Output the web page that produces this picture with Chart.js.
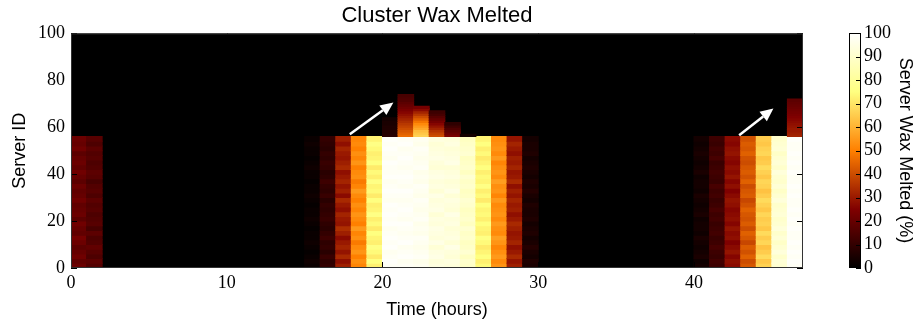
<!DOCTYPE html>
<html>
<head>
<meta charset="utf-8">
<title>Cluster Wax Melted</title>
<script src="https://cdn.jsdelivr.net/npm/chart.js@4.4.1/dist/chart.umd.min.js"></script>
<style>
  body { margin: 0; background: #fff; }
  #wrap { position: relative; width: 920px; height: 321px; }
  #heat { position: absolute; left: 0; top: 0; }
  #cbar { position: absolute; left: 830px; top: 0; }
</style>
</head>
<body>
<div id="wrap">
  <canvas id="heat" width="830" height="321"></canvas>
  <canvas id="cbar" width="90" height="321"></canvas>
</div>
<script>
// hours on the x axis, one column per hour
const hours = [0, 1, 2, 3, 4, 5, 6, 7, 8, 9, 10, 11, 12, 13, 14, 15, 16, 17, 18, 19, 20, 21, 22, 23,
  24, 25, 26, 27, 28, 29, 30, 31, 32, 33, 34, 35, 36, 37, 38, 39, 40, 41, 42, 43, 44, 45, 46];
const xTicks = [0, 10, 20, 30, 40];
const yTicks = [0, 20, 40, 60, 80, 100];
const cbarTicks = [0, 10, 20, 30, 40, 50, 60, 70, 80, 90, 100];

// base cluster: servers 0-55, 2 servers per band (bottom band first)
const serversPerBand = 2;
const activeHours = [0, 1, 15, 16, 17, 18, 19, 20, 21, 22, 23, 24, 25, 26, 27, 28, 29, 40, 41, 42, 43, 44, 45, 46];
const bandMelt = [
  [21, 19, 22, 20, 18, 21, 23, 19, 20, 22, 18, 21, 20, 19, 22, 20, 19, 21, 18, 20, 22, 19, 21, 20, 18, 22, 20, 21],
  [16, 18, 15, 17, 19, 16, 15, 18, 14, 17, 16, 15, 17, 16, 18, 15, 17, 16, 14, 17, 18, 16, 15, 17, 16, 18, 15, 17],
  [2, 3, 2, 1, 2, 3, 2, 2, 1, 2, 3, 2, 2, 1, 2, 3, 2, 2, 1, 2, 2, 3, 2, 1, 2, 2, 3, 2],
  [10, 9, 11, 8, 10, 9, 12, 10, 8, 9, 11, 10, 9, 10, 8, 11, 9, 10, 12, 9, 8, 10, 11, 9, 10, 8, 9, 10],
  [31, 28, 33, 29, 32, 30, 27, 31, 34, 29, 30, 32, 28, 30, 33, 27, 31, 29, 32, 30, 28, 33, 31, 29, 30, 32, 28, 31],
  [51, 53, 50, 54, 52, 49, 53, 51, 55, 50, 52, 54, 51, 53, 50, 52, 55, 51, 49, 53, 52, 50, 54, 51, 53, 50, 52, 51],
  [72, 75, 71, 74, 76, 72, 73, 75, 71, 74, 72, 76, 73, 72, 75, 71, 74, 73, 76, 72, 74, 71, 75, 73, 72, 74, 76, 73],
  [98, 99, 98, 97, 99, 98, 99, 98, 97, 99, 98, 99, 98, 99, 97, 98, 99, 98, 97, 99, 98, 98, 99, 97, 98, 99, 98, 99],
  [98, 97, 99, 98, 97, 99, 98, 97, 98, 99, 97, 98, 99, 98, 97, 98, 99, 97, 98, 99, 98, 97, 98, 99, 98, 97, 99, 98],
  [97, 96, 98, 97, 96, 97, 98, 96, 97, 96, 98, 97, 96, 97, 98, 96, 97, 98, 96, 97, 96, 98, 97, 96, 97, 98, 96, 97],
  [94, 93, 95, 94, 92, 95, 93, 94, 95, 93, 94, 92, 95, 94, 93, 95, 92, 94, 93, 95, 94, 92, 93, 95, 94, 93, 92, 94],
  [93, 94, 92, 93, 95, 92, 94, 93, 92, 94, 93, 95, 92, 93, 94, 92, 95, 93, 92, 94, 93, 92, 95, 94, 93, 92, 94, 93],
  [89, 90, 88, 91, 89, 88, 90, 89, 91, 88, 90, 89, 88, 90, 91, 89, 88, 90, 89, 91, 88, 90, 89, 88, 91, 90, 89, 88],
  [74, 72, 75, 73, 71, 74, 76, 72, 73, 75, 72, 74, 73, 75, 71, 74, 72, 76, 73, 74, 72, 75, 73, 71, 74, 72, 75, 73],
  [54, 52, 55, 53, 51, 54, 56, 52, 53, 55, 52, 54, 53, 52, 55, 51, 54, 53, 56, 52, 54, 53, 51, 55, 52, 54, 53, 52],
  [31, 29, 33, 30, 28, 32, 30, 29, 31, 33, 30, 28, 31, 30, 32, 29, 31, 28, 33, 30, 29, 32, 30, 31, 28, 30, 32, 29],
  [5, 6, 4, 5, 7, 5, 4, 6, 5, 4, 6, 5, 5, 6, 4, 5, 7, 5, 6, 4, 5, 6, 5, 4, 6, 5, 5, 4],
  [4, 3, 5, 4, 3, 4, 5, 3, 4, 4, 3, 5, 4, 3, 4, 5, 3, 4, 4, 3, 5, 4, 3, 4, 5, 4, 3, 4],
  [12, 13, 11, 12, 14, 12, 11, 13, 12, 11, 13, 12, 14, 12, 11, 13, 12, 14, 11, 12, 13, 12, 11, 14, 12, 13, 11, 12],
  [27, 28, 26, 29, 27, 25, 28, 27, 29, 26, 28, 27, 26, 28, 29, 27, 25, 28, 26, 29, 27, 28, 26, 27, 29, 28, 26, 27],
  [42, 40, 44, 41, 43, 39, 42, 44, 40, 43, 41, 42, 44, 41, 39, 43, 42, 40, 44, 41, 43, 42, 40, 41, 44, 42, 43, 41],
  [66, 64, 68, 65, 63, 67, 65, 68, 64, 66, 65, 67, 64, 66, 68, 65, 63, 66, 67, 64, 66, 68, 65, 64, 67, 66, 64, 65],
  [91, 92, 90, 93, 91, 89, 92, 90, 93, 91, 90, 92, 91, 90, 93, 91, 89, 92, 90, 91, 93, 90, 92, 91, 89, 92, 91, 90],
  [98, 99, 98, 99, 98, 99, 98, 98, 99, 98, 99, 98, 99, 98, 98, 99, 98, 99, 98, 98, 99, 98, 99, 98, 99, 98, 98, 99]
];

// servers added on top of the base cluster, one value per server (bottom first)
const firstExtraServer = 56;
const extraHours = [20, 21, 22, 23, 24, 25, 46];
const extraMelt = [
  [8, 7, 7, 6, 6, 5, 5, 4],
  [46, 44, 42, 40, 38, 36, 34, 32, 30, 28, 26, 24, 22, 20, 18, 16, 15, 14],
  [66, 64, 62, 58, 55, 52, 48, 44, 40, 36, 32, 27, 23],
  [40, 38, 35, 32, 29, 26, 23, 20, 17, 14, 12],
  [24, 21, 18, 15, 12, 9],
  [4],
  [32, 31, 30, 30, 29, 28, 27, 26, 25, 24, 23, 22, 21, 20, 19, 18]
];

// annotation arrows in data units: [x0, y0, x1, y1]
const arrows = [[17.9, 57, 20.7, 70.5], [42.9, 56.6, 45.1, 68]];

// matplotlib "afmhot" colormap, v in 0..100
function afmhot(v) {
  const t = Math.max(0, Math.min(1, v / 100));
  const c = k => Math.round(255 * Math.max(0, Math.min(1, 2 * t - k)));
  return 'rgb(' + c(0) + ',' + c(0.5) + ',' + c(1) + ')';
}

const cells = [];
activeHours.forEach((h, i) => {
  bandMelt[i].forEach((v, b) => {
    cells.push({ x: h + 0.5, y: [b * serversPerBand, (b + 1) * serversPerBand], v: v });
  });
});
extraHours.forEach((h, i) => {
  extraMelt[i].forEach((v, s) => {
    cells.push({ x: h + 0.5, y: [firstExtraServer + s, firstExtraServer + s + 1], v: v });
  });
});

const serif = 'Liberation Serif, DejaVu Serif, serif';
const sans = 'Liberation Sans, Arial, sans-serif';

// black plot background, frame, inward ticks and arrows
const heatDecor = {
  id: 'heatDecor',
  beforeDatasetsDraw(chart) {
    const a = chart.chartArea, ctx = chart.ctx;
    ctx.save();
    ctx.fillStyle = '#000';
    ctx.fillRect(a.left, a.top, a.right - a.left, a.bottom - a.top);
    ctx.restore();
  },
  afterDatasetsDraw(chart) {
    const a = chart.chartArea, ctx = chart.ctx;
    const xs = chart.scales.x, ys = chart.scales.y;
    const len = 6;
    ctx.save();
    ctx.strokeStyle = '#000';
    ctx.lineWidth = 1;
    ctx.beginPath();
    xTicks.forEach(t => {
      const px = Math.round(xs.getPixelForValue(t)) + 0.5;
      ctx.moveTo(px, a.bottom); ctx.lineTo(px, a.bottom - len);
      ctx.moveTo(px, a.top); ctx.lineTo(px, a.top + len);
    });
    yTicks.forEach(t => {
      const py = Math.round(ys.getPixelForValue(t)) + 0.5;
      ctx.moveTo(a.left, py); ctx.lineTo(a.left + len, py);
      ctx.moveTo(a.right, py); ctx.lineTo(a.right - len, py);
    });
    ctx.stroke();
    ctx.strokeStyle = '#333';
    ctx.strokeRect(a.left + 0.5, a.top + 0.5, a.right - a.left - 1, a.bottom - a.top - 1);

    // arrows
    ctx.strokeStyle = '#fff';
    ctx.fillStyle = '#fff';
    ctx.lineWidth = 2.5;
    arrows.forEach(([x0, y0, x1, y1]) => {
      const p0x = xs.getPixelForValue(x0), p0y = ys.getPixelForValue(y0);
      const p1x = xs.getPixelForValue(x1), p1y = ys.getPixelForValue(y1);
      const ang = Math.atan2(p1y - p0y, p1x - p0x);
      const head = 13, half = 6;
      const bx = p1x - head * Math.cos(ang), by = p1y - head * Math.sin(ang);
      ctx.beginPath();
      ctx.moveTo(p0x, p0y); ctx.lineTo(bx, by);
      ctx.stroke();
      ctx.beginPath();
      ctx.moveTo(p1x, p1y);
      ctx.lineTo(bx + half * Math.sin(ang), by - half * Math.cos(ang));
      ctx.lineTo(bx - half * Math.sin(ang), by + half * Math.cos(ang));
      ctx.closePath();
      ctx.fill();
    });
    ctx.restore();
  }
};

new Chart(document.getElementById('heat').getContext('2d'), {
  type: 'bar',
  data: {
    datasets: [{
      label: 'Server Wax Melted (%)',
      data: cells,
      backgroundColor: ctx => afmhot(ctx.raw ? ctx.raw.v : 0),
      borderWidth: 0,
      inflateAmount: 0.5,
      barPercentage: 1,
      categoryPercentage: 1
    }]
  },
  options: {
    responsive: false,
    animation: false,
    devicePixelRatio: 1,
    layout: { padding: { left: 0, right: 27, top: 0, bottom: 0 } },
    scales: {
      x: {
        type: 'linear',
        min: 0,
        max: 47,
        offset: false,
        grid: { display: false, drawTicks: false },
        border: { display: false },
        ticks: {
          stepSize: 10,
          includeBounds: false,
          padding: 4,
          color: '#000',
          font: { family: serif, size: 18 }
        },
        title: {
          display: true,
          text: 'Time (hours)',
          color: '#000',
          padding: { top: 5, bottom: 0 },
          font: { family: sans, size: 18 }
        },
        afterFit: s => { s.height = 53; }
      },
      y: {
        type: 'linear',
        min: 0,
        max: 100,
        grid: { display: false, drawTicks: false },
        border: { display: false },
        ticks: {
          stepSize: 20,
          padding: 6,
          color: '#000',
          font: { family: serif, size: 18 }
        },
        title: {
          display: true,
          text: 'Server ID',
          color: '#000',
          padding: { top: 9, bottom: 0 },
          font: { family: sans, size: 18 }
        },
        afterFit: s => { s.width = 71; }
      }
    },
    plugins: {
      legend: { display: false },
      tooltip: { enabled: false },
      title: {
        display: true,
        text: 'Cluster Wax Melted',
        fullSize: false,
        color: '#000',
        padding: { top: 3, bottom: 4 },
        font: { family: sans, size: 22, weight: 'normal' }
      }
    }
  },
  plugins: [heatDecor]
});

// colour bar: gradient of the colormap along the 0-100 scale
const cbarDecor = {
  id: 'cbarDecor',
  beforeDatasetsDraw(chart) {
    const a = chart.chartArea, ctx = chart.ctx, ys = chart.scales.y;
    const g = ctx.createLinearGradient(0, ys.getPixelForValue(0), 0, ys.getPixelForValue(100));
    for (let v = 0; v <= 100; v += 5) g.addColorStop(v / 100, afmhot(v));
    ctx.save();
    ctx.fillStyle = g;
    ctx.fillRect(a.left, a.top, a.right - a.left, a.bottom - a.top);
    ctx.strokeStyle = '#000';
    ctx.lineWidth = 1;
    ctx.beginPath();
    cbarTicks.forEach(t => {
      const py = Math.round(ys.getPixelForValue(t)) + 0.5;
      ctx.moveTo(a.right, py); ctx.lineTo(a.right - 5, py);
    });
    ctx.stroke();
    ctx.strokeRect(a.left + 0.5, a.top + 0.5, a.right - a.left - 1, a.bottom - a.top - 1);
    ctx.restore();
  }
};

new Chart(document.getElementById('cbar').getContext('2d'), {
  type: 'bar',
  data: { labels: [], datasets: [] },
  options: {
    responsive: false,
    animation: false,
    devicePixelRatio: 1,
    layout: { padding: { left: 19, right: 0, top: 33, bottom: 53 } },
    scales: {
      x: { display: false },
      y: {
        type: 'linear',
        position: 'right',
        min: 0,
        max: 100,
        grid: { display: false, drawTicks: false },
        border: { display: false },
        ticks: {
          stepSize: 10,
          autoSkip: false,
          padding: 3,
          color: '#000',
          font: { family: serif, size: 18 }
        },
        title: {
          display: true,
          text: 'Server Wax Melted (%)',
          color: '#000',
          padding: { top: 4, bottom: 0 },
          font: { family: sans, size: 18 }
        },
        afterFit: s => { s.width = 59; }
      }
    },
    plugins: {
      legend: { display: false },
      tooltip: { enabled: false }
    }
  },
  plugins: [cbarDecor]
});
</script>
</body>
</html>
